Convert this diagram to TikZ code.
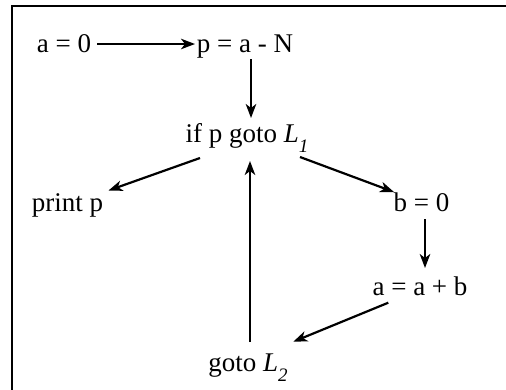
\documentclass[tikz,border=0pt]{standalone}
\usepackage{fontspec}
\setmainfont{Liberation Serif}
\usetikzlibrary{arrows.meta}
\newcommand{\lab}[1]{\textit{L}\raisebox{-10pt}{\fontsize{19}{19}\selectfont\textit{#1}}}
\tikzset{
  txt/.style={anchor=base, inner sep=0pt, font=\fontsize{27}{31}\selectfont},
  flow/.style={line width=2.2pt, -{Stealth[length=14pt,width=10.5pt,inset=4pt]}},
  frame/.style={line width=2.5pt}
}
\begin{document}
\begin{tikzpicture}[x=1pt,y=1pt]
\useasboundingbox (0,0) rectangle (506,-389);
\draw[frame] (12.2,-395) -- (12.2,-6.2) -- (515,-6.2);
\node[txt] (a0) at (64,-52) {a = 0};
\node[txt] (p) at (245,-52) {p = a - N};
\node[txt] (if) at (247,-142) {if p goto \lab{1}};
\node[txt] (pr) at (67.5,-211) {print p};
\node[txt] (b) at (421.5,-211) {b = 0};
\node[txt] (aab) at (420,-295) {a = a + b};
\node[txt] (g2) at (248,-371) {goto \lab{2}};
\draw[flow] ([shift={(33,8)}]a0.base) -- ([shift={(-50,8)}]p.base);
\draw[flow] ([shift={(6,-7)}]p.base) -- ([shift={(4,24)}]if.base);
\draw[flow] ([shift={(-47,-16)}]if.base) -- ([shift={(41,20.5)}]pr.base);
\draw[flow] ([shift={(53,-15)}]if.base) -- ([shift={(-27.5,19)}]b.base);
\draw[flow] ([shift={(3.5,-8)}]b.base) -- ([shift={(5,27)}]aab.base);
\draw[flow] ([shift={(-31.7,-7.7)}]aab.base) -- ([shift={(45.3,29.3)}]g2.base);
\draw[flow] ([shift={(2,29)}]g2.base) -- ([shift={(3,-19)}]if.base);
\end{tikzpicture}
\end{document}
